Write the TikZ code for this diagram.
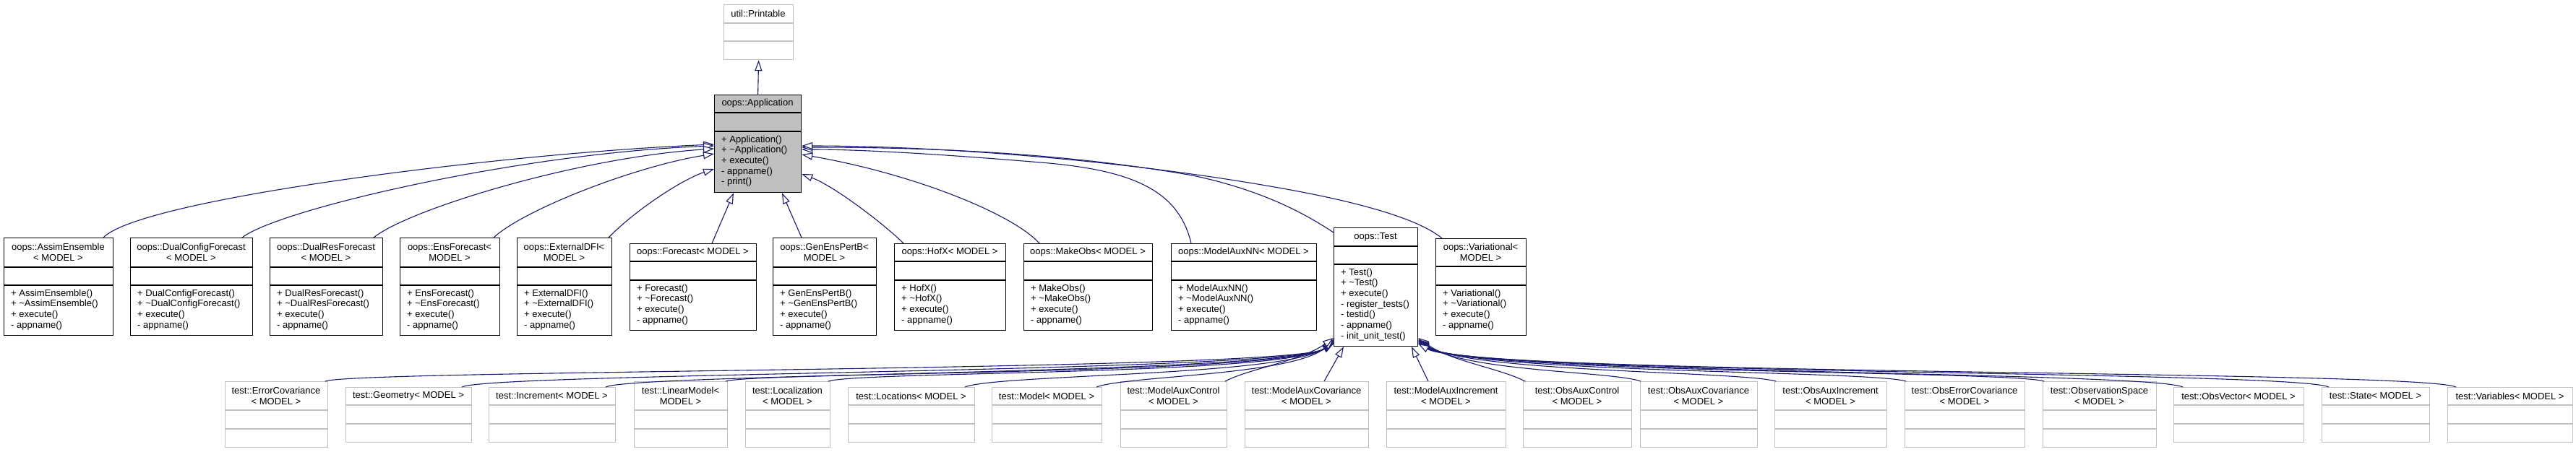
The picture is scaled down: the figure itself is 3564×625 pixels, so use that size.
\documentclass[tikz,border=0pt]{standalone}
\usepackage{fontspec}
\setmainfont{Liberation Sans}
\usetikzlibrary{arrows.meta,calc}
\definecolor{edgeblue}{HTML}{191970}
\definecolor{greyline}{HTML}{BFBFBF}
\definecolor{appfill}{HTML}{BFBFBF}
\tikzset{
  docbox/.style={draw=black, fill=white, line width=1.2pt, inner sep=0pt},
  docboxdiv/.style={draw=black, line width=1.2pt},
  appbox/.style={draw=black, fill=appfill, line width=1.2pt, inner sep=0pt},
  appboxdiv/.style={draw=black, line width=1.2pt},
  extbox/.style={draw=greyline, fill=white, line width=1.2pt, inner sep=0pt},
  extboxdiv/.style={draw=greyline, line width=1.2pt},
  hdr/.style={align=center, inner sep=0pt, font=\fontsize{13}{14.7}\selectfont},
  mtext/.style={anchor=base west, inner sep=0pt, font=\fontsize{13}{14.7}\selectfont},
  inh/.style={draw=edgeblue, line width=1.1pt, -{Triangle[length=15pt,width=10pt,fill=white]}}
}
\newcommand{\ubox}[8]{%
  \def\curname{#1}\def\cxa{#2}\def\cya{#3}\def\cxb{#4}\def\cyb{#5}\def\cda{#6}\def\cdb{#7}%
  \node[#8, minimum width={(#4-#2)*1pt}, minimum height={(#5-#3)*1pt}, anchor=north west] (#1) at (#2,#3) {};
  \draw[#8div] (#2,#6) -- (#4,#6) (#2,#7) -- (#4,#7);
}
\newcommand{\uhead}[1]{\node[hdr] (\curname-h) at ({(\cxa+\cxb)/2},{(\cya+\cda)/2}) {#1};}
\newcommand{\umeth}[1]{\foreach \m [count=\i from 0] in {#1} {\node[mtext] (\curname-m\i) at (\cxa+10,\cdb+15+\i*14.7) {\m};}}
\newcommand{\tl}{\textasciitilde{}}
\begin{document}
\begin{tikzpicture}[x=1pt,y=-1pt]
\fill[white] (0,0) rectangle (3564,625);
\useasboundingbox (0,0) rectangle (3564,625);

% ---- top
\ubox{printable}{1001}{6}{1097}{82}{32}{57}{extbox}
\uhead{util::Printable}
\ubox{app}{988}{131}{1108}{266}{156}{182}{appbox}
\uhead{oops::Application}
\umeth{+ Application(),+ \tl Application(),+ execute(),- appname(),- print()}

% ---- row 1
\ubox{assim}{5}{329}{156}{464}{370}{395}{docbox}
\uhead{oops::AssimEnsemble\\< MODEL >}
\umeth{+ AssimEnsemble(),+ \tl AssimEnsemble(),+ execute(),- appname()}
\ubox{dcf}{180}{329}{349}{464}{370}{395}{docbox}
\uhead{oops::DualConfigForecast\\< MODEL >}
\umeth{+ DualConfigForecast(),+ \tl DualConfigForecast(),+ execute(),- appname()}
\ubox{drf}{373}{329}{529}{464}{370}{395}{docbox}
\uhead{oops::DualResForecast\\< MODEL >}
\umeth{+ DualResForecast(),+ \tl DualResForecast(),+ execute(),- appname()}
\ubox{ensf}{553}{329}{691}{464}{370}{395}{docbox}
\uhead{oops::EnsForecast<\\MODEL >}
\umeth{+ EnsForecast(),+ \tl EnsForecast(),+ execute(),- appname()}
\ubox{extdfi}{715}{329}{846}{464}{370}{395}{docbox}
\uhead{oops::ExternalDFI<\\MODEL >}
\umeth{+ ExternalDFI(),+ \tl ExternalDFI(),+ execute(),- appname()}
\ubox{forecast}{871}{337}{1046}{457}{362}{388}{docbox}
\uhead{oops::Forecast< MODEL >}
\umeth{+ Forecast(),+ \tl Forecast(),+ execute(),- appname()}
\ubox{genens}{1069}{329}{1212}{464}{370}{395}{docbox}
\uhead{oops::GenEnsPertB<\\MODEL >}
\umeth{+ GenEnsPertB(),+ \tl GenEnsPertB(),+ execute(),- appname()}
\ubox{hofx}{1237}{337}{1391}{457}{362}{388}{docbox}
\uhead{oops::HofX< MODEL >}
\umeth{+ HofX(),+ \tl HofX(),+ execute(),- appname()}
\ubox{makeobs}{1416}{337}{1594}{457}{362}{388}{docbox}
\uhead{oops::MakeObs< MODEL >}
\umeth{+ MakeObs(),+ \tl MakeObs(),+ execute(),- appname()}
\ubox{maxnn}{1620}{337}{1821}{457}{362}{388}{docbox}
\uhead{oops::ModelAuxNN< MODEL >}
\umeth{+ ModelAuxNN(),+ \tl ModelAuxNN(),+ execute(),- appname()}
\ubox{test}{1845}{315}{1961}{479}{341}{366}{docbox}
\uhead{oops::Test}
\umeth{+ Test(),+ \tl Test(),+ execute(),- register\_tests(),- testid(),- appname(),- init\_unit\_test()}
\ubox{var}{1986}{330}{2111}{464}{369}{395}{docbox}
\uhead{oops::Variational<\\MODEL >}
\umeth{+ Variational(),+ \tl Variational(),+ execute(),- appname()}

% ---- row 2 (tests)
\ubox{errcov}{311}{528}{453}{619}{568}{594}{extbox}
\uhead{test::ErrorCovariance\\< MODEL >}
\ubox{geom}{478}{536}{652}{612}{561}{587}{extbox}
\uhead{test::Geometry< MODEL >}
\ubox{incr}{676}{536}{851}{612}{561}{587}{extbox}
\uhead{test::Increment< MODEL >}
\ubox{linmod}{877}{528}{1006}{619}{568}{594}{extbox}
\uhead{test::LinearModel<\\MODEL >}
\ubox{local}{1031}{528}{1148}{619}{568}{594}{extbox}
\uhead{test::Localization\\< MODEL >}
\ubox{locs}{1173}{536}{1348}{612}{561}{587}{extbox}
\uhead{test::Locations< MODEL >}
\ubox{model}{1372}{536}{1524}{612}{561}{587}{extbox}
\uhead{test::Model< MODEL >}
\ubox{mauxctl}{1550}{528}{1697}{619}{568}{594}{extbox}
\uhead{test::ModelAuxControl\\< MODEL >}
\ubox{mauxcov}{1722}{528}{1893}{619}{568}{594}{extbox}
\uhead{test::ModelAuxCovariance\\< MODEL >}
\ubox{mauxinc}{1918}{528}{2083}{619}{568}{594}{extbox}
\uhead{test::ModelAuxIncrement\\< MODEL >}
\ubox{oauxctl}{2107}{528}{2257}{619}{568}{594}{extbox}
\uhead{test::ObsAuxControl\\< MODEL >}
\ubox{oauxcov}{2269}{528}{2431}{619}{568}{594}{extbox}
\uhead{test::ObsAuxCovariance\\< MODEL >}
\ubox{oauxinc}{2455}{528}{2610}{619}{568}{594}{extbox}
\uhead{test::ObsAuxIncrement\\< MODEL >}
\ubox{oerrcov}{2635}{528}{2801}{619}{568}{594}{extbox}
\uhead{test::ObsErrorCovariance\\< MODEL >}
\ubox{ospace}{2826}{528}{2983}{619}{568}{594}{extbox}
\uhead{test::ObservationSpace\\< MODEL >}
\ubox{ovec}{3007}{536}{3187}{612}{561}{587}{extbox}
\uhead{test::ObsVector< MODEL >}
\ubox{state}{3212}{536}{3361}{612}{561}{587}{extbox}
\uhead{test::State< MODEL >}
\ubox{vars}{3386}{536}{3559}{612}{561}{587}{extbox}
\uhead{test::Variables< MODEL >}

% ---- edges to Printable / Application
\draw[inh] (app.north) -- (printable.south);
\draw[inh] (assim.north -| 143,0) .. controls (195,275) and (700,212) .. (app.west |- 0,200);
\draw[inh] (dcf.north -| 335,0) .. controls (385,290) and (720,212) .. (app.west |- 0,202);
\draw[inh] (drf.north -| 517,0) .. controls (565,290) and (800,218) .. (app.west |- 0,206);
\draw[inh] (ensf.north -| 683,0) .. controls (725,290) and (880,230) .. (app.west |- 0,213);
\draw[inh] (extdfi.north -| 842,0) .. controls (880,290) and (945,248) .. (app.west |- 0,234);
\draw[inh] (forecast.north -| 985,0) -- (app.south -| 1015,0);
\draw[inh] (genens.north -| 1109,0) -- (app.south -| 1082,0);
\draw[inh] (hofx.north -| 1250,0) .. controls (1225,312) and (1155,258) .. (app.east |- 0,241);
\draw[inh] (makeobs.north -| 1438,0) .. controls (1400,295) and (1260,240) .. (app.east |- 0,214);
\draw[inh] (maxnn.north -| 1648,0) .. controls (1630,260) and (1560,235) .. (1440,225)
  .. controls (1320,215) and (1200,207) .. (app.east |- 0,207);
\draw[inh] (test.west |- 0,322) .. controls (1800,292) and (1740,262) .. (1650,243)
  .. controls (1450,208) and (1250,204) .. (app.east |- 0,204);
\draw[inh] (var.north -| 1995,0) .. controls (1965,305) and (1890,282) .. (1780,262)
  .. controls (1560,222) and (1300,202) .. (app.east |- 0,202);

% ---- edges to Test (left side)
\draw[inh] (errcov.north -| 450,0) .. controls (490,512) and (1780,514) .. (test.west |- 0,476);
\draw[inh] (geom.north -| 639,0) .. controls (680,516) and (1782,516) .. (test.west |- 0,475);
\draw[inh] (incr.north -| 838,0) .. controls (880,517) and (1784,518) .. (test.west |- 0,474);
\draw[inh] (linmod.north -| 1004,0) .. controls (1045,515) and (1786,519) .. (test.west |- 0,473);
\draw[inh] (local.north -| 1146,0) .. controls (1190,514) and (1788,520) .. (test.west |- 0,472);
\draw[inh] (locs.north -| 1335,0) .. controls (1380,518) and (1790,521) .. (test.west |- 0,471);
\draw[inh] (model.north -| 1517,0) .. controls (1560,520) and (1795,520) .. (test.west |- 0,470);
\draw[inh] (mauxctl.north -| 1695,0) .. controls (1730,510) and (1800,500) .. (test.west |- 0,468);
\draw[inh] (mauxcov.north -| 1832,0) -- (test.south -| 1859,0);
\draw[inh] (mauxinc.north -| 1976,0) -- (test.south -| 1953,0);
% ---- edges to Test (right side)
\draw[inh] (oauxctl.north -| 2110,0) .. controls (2075,510) and (2006,500) .. (test.east |- 0,468);
\draw[inh] (oauxcov.north -| 2270,0) .. controls (2230,514) and (2026,515) .. (test.east |- 0,470);
\draw[inh] (oauxinc.north -| 2457,0) .. controls (2410,514) and (2028,516) .. (test.east |- 0,471);
\draw[inh] (oerrcov.north -| 2637,0) .. controls (2590,513) and (2030,517) .. (test.east |- 0,472);
\draw[inh] (ospace.north -| 2828,0) .. controls (2780,513) and (2032,518) .. (test.east |- 0,473);
\draw[inh] (ovec.north -| 3020,0) .. controls (2970,514) and (2034,518) .. (test.east |- 0,474);
\draw[inh] (state.north -| 3222,0) .. controls (3170,513) and (2036,519) .. (test.east |- 0,475);
\draw[inh] (vars.north -| 3398,0) .. controls (3345,512) and (2038,520) .. (test.east |- 0,476);
\end{tikzpicture}
\end{document}
